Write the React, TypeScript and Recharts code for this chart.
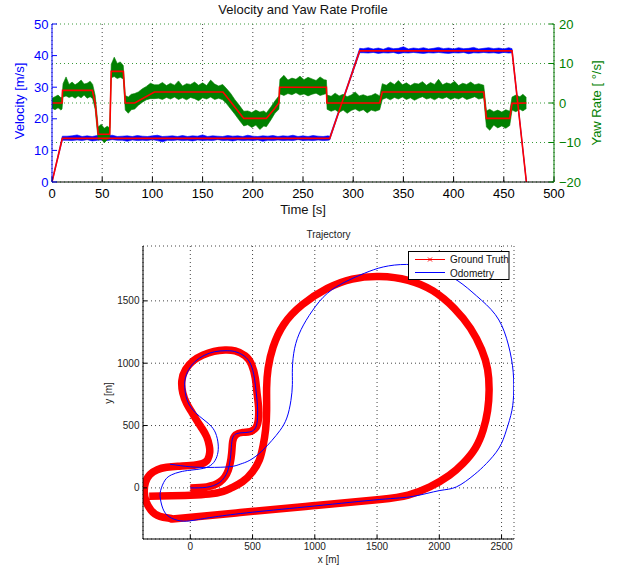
import React from 'react';
import { ComposedChart, LineChart, Line, Area, XAxis, YAxis, CartesianGrid } from 'recharts';

const FONT = '"Liberation Sans", Arial, Helvetica, sans-serif';

// ---------- Top chart: velocity & yaw rate ----------
const timeTicks = [0, 50, 100, 150, 200, 250, 300, 350, 400, 450, 500];
const velocityTicks = [0, 10, 20, 30, 40, 50];
const yawTicks = [-20, -10, 0, 10, 20];

// ground-truth velocity [t, m/s]
const gtVelocity: [number, number][] = [
  [0, 0], [10.3, 13.8], [276.6, 13.8], [306.5, 41.5], [458.2, 41.5], [472.5, 0],
];

// ground-truth yaw rate [t, deg/s]
const gtYaw: [number, number][] = [
  [0, 0], [10, 0], [10.5, 3.2], [40.2, 3.2], [43, 0], [46, -7.9], [57.5, -7.9], [59, 8.0],
  [71, 8.0], [73, 0], [82.4, 0], [102, 2.8], [170.3, 2.8], [191, -3.9], [213.5, -3.9],
  [221.8, -1.4], [226, 0], [226.7, 4.0], [273.3, 4.0], [273.8, 0], [326.4, 0], [329, 2.8],
  [430, 2.8], [432.7, -3.9], [455.9, -3.9], [458.2, -0.1], [472.5, 0],
];

// measured velocity noise envelope [t, low, high]
const measuredVelocity: [number, number, number][] = [
  [0, -0.2, 0.3], [5, 6.4, 7.1], [10.3, 13.2, 14.5],
  [15, 13.2, 14.5], [20, 13.1, 14.6], [25, 13.3, 14.9], [30, 13.1, 14.4], [35, 13.4, 14.6],
  [40, 13.0, 14.4], [45, 13.2, 14.7], [50, 13.3, 14.4], [55, 13.1, 14.6], [60, 13.4, 14.8],
  [65, 13.2, 14.4], [70, 13.2, 14.5], [75, 12.9, 14.6], [80, 13.3, 14.4], [85, 13.1, 14.7],
  [90, 13.2, 14.5], [95, 13.1, 14.4], [100, 13.4, 14.6], [105, 13.1, 14.8], [110, 12.7, 14.4],
  [115, 13.2, 14.5], [120, 13.1, 14.6], [125, 13.3, 14.4], [130, 13.1, 14.7], [135, 13.2, 14.4],
  [140, 13.0, 14.6], [145, 13.3, 14.5], [150, 13.1, 14.9], [155, 13.2, 14.4], [160, 13.1, 14.6],
  [165, 13.4, 14.5], [170, 13.1, 14.4], [175, 13.2, 14.7], [180, 13.0, 14.5], [185, 13.3, 14.6],
  [190, 13.1, 14.4], [195, 13.2, 14.8], [200, 13.1, 14.5], [205, 13.3, 14.4], [210, 12.9, 14.6],
  [215, 13.2, 14.5], [220, 13.1, 14.7], [225, 13.3, 14.4], [230, 13.1, 14.6], [235, 13.2, 14.5],
  [240, 13.1, 14.8], [245, 13.4, 14.4], [250, 13.1, 14.6], [255, 13.2, 14.4], [260, 13.1, 14.7],
  [265, 13.3, 14.5], [270, 13.1, 14.4], [275, 13.2, 14.6], [276.6, 13.3, 14.4],
  [285, 21.2, 22.1], [295, 30.4, 31.3], [306.5, 40.9, 42.3],
  [310, 40.9, 42.2], [315, 40.8, 42.5], [320, 41.0, 42.1], [325, 40.7, 42.4], [330, 40.9, 42.0],
  [335, 40.8, 42.6], [340, 41.0, 42.2], [345, 40.6, 42.3], [350, 40.9, 42.8], [355, 40.8, 42.1],
  [360, 41.0, 42.4], [365, 40.8, 42.2], [370, 40.7, 42.5], [375, 40.9, 42.1], [380, 40.8, 42.3],
  [385, 41.0, 42.6], [390, 40.8, 42.2], [395, 40.7, 42.4], [400, 40.9, 42.1], [405, 40.8, 42.5],
  [410, 41.0, 42.2], [415, 40.6, 42.3], [420, 40.9, 42.6], [425, 40.8, 42.1], [430, 41.0, 42.3],
  [435, 40.8, 42.5], [440, 40.9, 42.2], [445, 40.7, 42.4], [450, 41.0, 42.1], [455, 40.8, 42.5],
  [458.2, 40.9, 42.2], [465, 21.4, 22.2], [472.5, -0.3, 0.3],
];

// measured yaw-rate noise envelope [t, low, high]
const measuredYaw: [number, number, number][] = [
  [0, -1.3, 1.2], [3, -1.7, 1.6], [6, -1.2, 2.0], [9, -1.8, 1.3], [10, -1.5, 1.5],
  [11, 1.5, 4.9], [14, 1.8, 6.6], [17, 1.4, 4.7], [20, 1.7, 5.3], [23, 1.2, 4.6], [26, 1.8, 5.1],
  [29, 1.3, 5.8], [32, 2.0, 4.8], [35, 1.2, 5.0], [38, 1.6, 5.5], [40.5, 1.1, 4.7],
  [43, -1.6, 1.9], [46, -9.4, -6.1], [49, -9.0, -5.4], [52, -10.1, -6.4], [55, -9.3, -5.9],
  [57.5, -8.9, -6.3], [59, 6.4, 9.8], [62, 6.7, 11.6], [65, 6.2, 10.0], [68, 6.5, 10.4],
  [71, 6.1, 9.5], [73, -1.8, 1.9], [76, -2.6, 1.5], [79, -1.7, 2.2], [82.4, -1.5, 2.4],
  [86, -0.6, 2.8], [90, 0.2, 3.6], [94, 0.8, 4.2], [98, 1.1, 5.0], [102, 1.1, 4.6],
  [106, 1.2, 4.6], [110, 0.9, 5.2], [114, 1.4, 4.4], [118, 1.0, 5.0], [122, 1.5, 4.5],
  [126, 0.9, 5.6], [130, 1.3, 4.3], [134, 0.8, 4.9], [138, 1.4, 4.7], [142, 1.1, 5.3],
  [146, 0.6, 4.5], [150, 1.3, 5.1], [154, 1.0, 4.4], [158, 1.5, 5.8], [162, 0.9, 4.8],
  [166, 1.2, 4.3], [170, 0.8, 4.7], [174, -0.2, 3.6], [178, -1.5, 2.4], [182, -2.8, 0.9],
  [186, -4.2, -0.4], [191, -5.8, -2.1], [195, -5.5, -2.0], [199, -6.2, -2.4], [203, -5.6, -1.8],
  [207, -6.7, -2.3], [211, -5.8, -2.0], [213.5, -6.0, -2.5], [218, -4.3, -1.0], [222, -2.6, 0.5],
  [226, -1.6, 1.8], [227, 2.3, 6.0], [231, 1.9, 7.0], [235, 2.4, 5.8], [239, 2.1, 6.3],
  [243, 2.6, 6.0], [247, 2.0, 6.8], [251, 2.3, 5.9], [255, 1.8, 6.5], [259, 2.2, 6.1],
  [263, 2.5, 5.7], [267, 1.9, 6.6], [271, 2.2, 5.9], [273.3, 2.4, 5.8], [274, -1.6, 2.0],
  [278, -2.1, 1.7], [282, -1.7, 2.5], [286, -2.4, 1.8], [290, -1.8, 2.2], [294, -2.6, 1.6],
  [298, -1.9, 2.0], [302, -1.5, 2.8], [306, -2.1, 1.8], [310, -1.7, 2.1], [314, -2.5, 1.7],
  [318, -1.8, 1.9], [322, -2.1, 2.4], [326.4, -1.7, 1.8], [329, 0.9, 4.9], [333, 1.3, 4.5],
  [337, 0.8, 5.3], [341, 1.4, 4.7], [345, 1.0, 5.7], [349, 1.5, 4.6], [353, 0.9, 5.1],
  [357, 1.3, 4.4], [361, 0.7, 5.0], [365, 1.2, 4.8], [369, 1.6, 5.4], [373, 1.0, 4.5],
  [377, 1.3, 5.2], [381, 0.8, 4.7], [385, 1.4, 6.0], [389, 1.1, 4.6], [393, 1.5, 5.1],
  [397, 0.9, 4.8], [401, 1.3, 5.5], [405, 1.0, 4.4], [409, 1.5, 5.0], [413, 0.9, 4.7],
  [417, 1.2, 5.3], [421, 1.6, 4.6], [425, 1.0, 4.9], [430, 1.3, 4.5], [432.7, -6.1, -2.0],
  [436, -6.9, -1.6], [440, -5.6, -2.2], [444, -6.3, -1.8], [448, -5.8, -2.3], [452, -6.4, -1.7],
  [455.9, -5.7, -2.1], [458.2, -1.8, 1.5], [462, -2.2, 2.0], [466, -1.6, 1.6], [469, -2.0, 2.2],
  [472.5, -1.4, 1.4],
];

// ---------- Bottom chart: trajectory ----------
const trajXTicks = [0, 500, 1000, 1500, 2000, 2500];
const trajYTicks = [0, 500, 1000, 1500];

const groundTruthPath: [number, number][] = [
  [0, 0], [131, 8], [238, 48], [305, 142], [332, 276], [340, 370], [365, 425], [420, 445],
  [480, 452], [525, 480], [546, 543], [548, 650], [536, 760], [522, 880], [492, 990],
  [440, 1060], [360, 1098], [279, 1105], [190, 1095], [100, 1065], [25, 1020], [-38, 950],
  [-68, 860], [-60, 760], [-29, 677], [10, 610], [51, 543], [95, 475], [132, 409], [152, 340],
  [156, 285], [140, 228], [95, 195], [0, 180], [-100, 174], [-190, 165], [-265, 146],
  [-325, 106], [-360, 45], [-370, -30], [-355, -110], [-315, -180], [-245, -228],
  [-150, -247], [-100, -245], [400, -198], [1000, -142], [1522, -93], [1750, -58], [1924, 8],
  [2080, 100], [2191, 196], [2290, 320], [2352, 463], [2388, 620], [2400, 784], [2388, 950],
  [2340, 1110], [2250, 1280], [2120, 1440], [1950, 1580], [1750, 1665], [1522, 1695],
  [1300, 1675], [1100, 1600], [900, 1470], [750, 1310], [665, 1130], [625, 960], [613, 800],
  [613, 620], [605, 470], [585, 340], [555, 225], [500, 130], [420, 50], [330, 0], [265, -28],
  [150, -50], [0, -59], [-150, -63], [-330, -67],
];

const odometryPath: [number, number][] = [
  [0, 0], [131, 5], [236, 44], [300, 135], [325, 265], [334, 372], [358, 428], [415, 442],
  [475, 448], [518, 472], [538, 538], [540, 650], [530, 760], [515, 880], [486, 990],
  [433, 1058], [355, 1094], [279, 1100], [195, 1092], [110, 1062], [40, 1015], [-12, 950],
  [-42, 870], [-43, 784], [-18, 685], [40, 605], [110, 545], [172, 490], [210, 420],
  [225, 329], [213, 250], [175, 190], [104, 156], [0, 142], [-83, 128], [-150, 105],
  [-203, 62], [-238, -20], [-240, -90], [-212, -185], [-150, -243], [-56, -267], [51, -256],
  [200, -232], [500, -195], [1000, -145], [1522, -93], [1790, -68], [2000, -22], [2138, 8],
  [2280, 105], [2379, 196], [2480, 320], [2539, 463], [2583, 620], [2598, 784], [2588, 980],
  [2540, 1200], [2450, 1390], [2299, 1540], [2150, 1660], [1950, 1760], [1737, 1792],
  [1550, 1772], [1400, 1722], [1250, 1655], [1100, 1560], [980, 1420], [890, 1270],
  [838, 1120], [820, 960], [820, 830], [808, 700], [775, 560], [720, 460], [655, 380],
  [575, 295], [479, 222], [400, 190], [319, 170], [150, 164], [0, 169], [-163, 190],
];

// tables for the library
const gtVelData = gtVelocity.map(([t, v]) => ({ t, v }));
const gtYawData = gtYaw.map(([t, v]) => ({ t, v }));
const velBandData = measuredVelocity.map(([t, lo, hi]) => ({ t, r: [lo, hi] }));
const yawBandData = measuredYaw.map(([t, lo, hi]) => ({ t, r: [lo, hi] }));
const gtPathData = groundTruthPath.map(([x, y]) => ({ x, y }));
const odoPathData = odometryPath.map(([x, y]) => ({ x, y }));

const BLUE = '#0000ff';
const GREEN = '#008000';
const RED = '#ff0000';

const minusFmt = (v: number) => (v < 0 ? '\u2212' + Math.abs(v) : String(v));

function TopChart() {
  const tickFont = { fontSize: 13, fontFamily: FONT };
  return (
    <ComposedChart width={619} height={222} margin={{ top: 24, right: 0, bottom: 0, left: 0 }}>
      <CartesianGrid xAxisId="t" yAxisId="vel" vertical horizontal={false} stroke="#444" strokeDasharray="1 3" />
      <CartesianGrid xAxisId="t" yAxisId="yaw" vertical={false} horizontal stroke="#3a9a3a" strokeDasharray="1 3" />
      <XAxis
        xAxisId="t" type="number" dataKey="t" domain={[0, 500]} ticks={timeTicks} interval={0}
        height={40} allowDataOverflow tickSize={-5} tickMargin={12}
        axisLine={{ stroke: '#000' }} tickLine={{ stroke: '#000' }}
        tick={{ ...tickFont, fill: '#000' }}
      />
      <YAxis
        yAxisId="vel" type="number" domain={[0, 50]} ticks={velocityTicks} interval={0}
        width={52} allowDataOverflow tickSize={-5} tickMargin={8.5}
        axisLine={{ stroke: BLUE }} tickLine={{ stroke: BLUE }}
        tick={{ ...tickFont, fill: BLUE }}
      />
      <YAxis
        yAxisId="yaw" orientation="right" type="number" domain={[-20, 20]} ticks={yawTicks} interval={0}
        width={65} allowDataOverflow tickSize={-5} tickMargin={10} tickFormatter={minusFmt}
        axisLine={{ stroke: GREEN }} tickLine={{ stroke: GREEN }}
        tick={{ ...tickFont, fill: GREEN }}
      />
      <Area
        xAxisId="t" yAxisId="vel" data={velBandData} dataKey="r" type="linear"
        stroke={BLUE} strokeWidth={0.6} fill={BLUE} fillOpacity={1}
        dot={false} activeDot={false} isAnimationActive={false}
      />
      <Area
        xAxisId="t" yAxisId="yaw" data={yawBandData} dataKey="r" type="linear"
        stroke={GREEN} strokeWidth={0.6} fill={GREEN} fillOpacity={1}
        dot={false} activeDot={false} isAnimationActive={false}
      />
      <Line
        xAxisId="t" yAxisId="vel" data={gtVelData} dataKey="v" type="linear"
        stroke={RED} strokeWidth={1.6} dot={false} activeDot={false} isAnimationActive={false}
      />
      <Line
        xAxisId="t" yAxisId="yaw" data={gtYawData} dataKey="v" type="linear"
        stroke={RED} strokeWidth={1.6} dot={false} activeDot={false} isAnimationActive={false}
      />
    </ComposedChart>
  );
}

function BottomChart() {
  const tickFont = { fontSize: 10, fontFamily: FONT, fill: '#222' };
  const xDomain: [number, number] = [-380, 2600];
  const yDomain: [number, number] = [-410, 1940];
  return (
    <LineChart width={619} height={345} margin={{ top: 21, right: 105, bottom: 0, left: 0 }}>
      <CartesianGrid xAxisId="x" yAxisId="y" stroke="#444" strokeDasharray="1 3" />
      <XAxis
        xAxisId="x" type="number" dataKey="x" domain={xDomain} ticks={trajXTicks} interval={0}
        height={31} allowDataOverflow tickSize={-4} tickMargin={8}
        axisLine={{ stroke: '#000' }} tickLine={{ stroke: '#000' }} tick={tickFont}
      />
      <XAxis
        xAxisId="xt" orientation="top" type="number" dataKey="x" domain={xDomain} ticks={trajXTicks}
        interval={0} height={0} allowDataOverflow tickSize={-4} tickFormatter={() => ''}
        axisLine={{ stroke: '#000' }} tickLine={{ stroke: '#000' }}
      />
      <YAxis
        yAxisId="y" type="number" domain={yDomain} ticks={trajYTicks} interval={0}
        width={143} allowDataOverflow tickSize={-4} tickMargin={7.5}
        axisLine={{ stroke: '#000' }} tickLine={{ stroke: '#000' }} tick={tickFont}
      />
      <YAxis
        yAxisId="yr" orientation="right" type="number" domain={yDomain} ticks={trajYTicks} interval={0}
        width={0} allowDataOverflow tickSize={-4} tickFormatter={() => ''}
        axisLine={{ stroke: '#000' }} tickLine={{ stroke: '#000' }}
      />
      <Line
        xAxisId="x" yAxisId="y" data={gtPathData} dataKey="y" type="natural"
        stroke={RED} strokeWidth={7.5} strokeLinejoin="round" dot={false} activeDot={false}
        isAnimationActive={false}
      />
      <Line
        xAxisId="x" yAxisId="y" data={odoPathData} dataKey="y" type="natural"
        stroke={BLUE} strokeWidth={1} dot={false} activeDot={false} isAnimationActive={false}
      />
    </LineChart>
  );
}

function Overlay() {
  return (
    <svg width={619} height={570} style={{ position: 'absolute', left: 0, top: 0, pointerEvents: 'none' }}
      fontFamily={FONT}>
      <text x={303} y={14} fontSize={13} textAnchor="middle" fill="#111">Velocity and Yaw Rate Profile</text>
      <text transform="translate(24,101) rotate(-90)" fontSize={13} textAnchor="middle" fill={BLUE}>Velocity [m/s]</text>
      <text transform="translate(601,103) rotate(-90)" fontSize={13} textAnchor="middle" fill={GREEN}>Yaw Rate [ °/s]</text>
      <text x={303} y={214} fontSize={13} textAnchor="middle" fill="#111">Time [s]</text>

      <text x={328.5} y={237.5} fontSize={10} textAnchor="middle" fill="#222">Trajectory</text>
      <text x={328.5} y={563} fontSize={10} textAnchor="middle" fill="#222">x [m]</text>
      <text transform="translate(112,393) rotate(-90)" fontSize={10} textAnchor="middle" fill="#222">y [m]</text>

      <rect x={408.5} y={251.5} width={100.5} height={28} fill="#fff" stroke="#000" strokeWidth={1} />
      <line x1={415} y1={259.5} x2={445} y2={259.5} stroke={RED} strokeWidth={1} />
      <line x1={428} y1={257.5} x2={432} y2={261.5} stroke={RED} strokeWidth={1} />
      <line x1={428} y1={261.5} x2={432} y2={257.5} stroke={RED} strokeWidth={1} />
      <text x={450} y={263} fontSize={10} fill="#111">Ground Truth</text>
      <line x1={415} y1={272.5} x2={445} y2={272.5} stroke={BLUE} strokeWidth={1} />
      <text x={450} y={276.5} fontSize={10} fill="#111">Odometry</text>
    </svg>
  );
}

export default function App() {
  return (
    <div style={{ position: 'absolute', left: 0, top: 0, width: 619, height: 570, background: '#fff' }}>
      <div style={{ position: 'absolute', left: 0, top: 0 }}>
        <TopChart />
      </div>
      <div style={{ position: 'absolute', left: 0, top: 225 }}>
        <BottomChart />
      </div>
      <Overlay />
    </div>
  );
}
